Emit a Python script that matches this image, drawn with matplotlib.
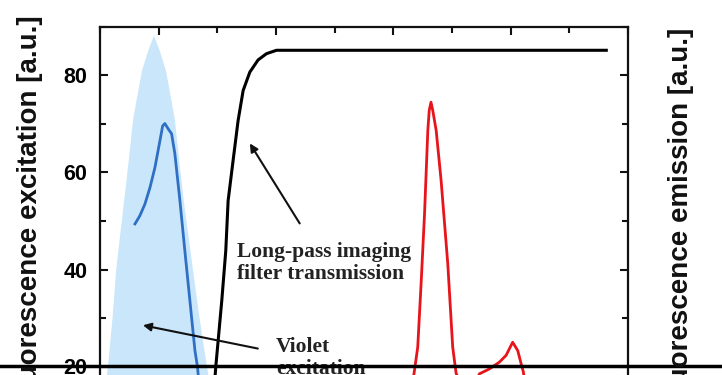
import matplotlib.pyplot as plt
from matplotlib.lines import Line2D
from matplotlib.ticker import MultipleLocator

# ---- data (wavelength in nm, intensity in a.u.) ----
# violet LED excitation band (light blue fill)
led_wl = [350, 356.8, 360.7, 363.8, 370.5, 374.3, 378.1, 382.0, 385.8, 390.9,
          396.0, 401.1, 406.2, 410.0, 413.9, 417.7, 421.5, 429.2, 434.8,
          441.1, 450, 460]
led_val = [8, 20, 30, 40, 54, 62, 70.7, 76, 81, 85,
           88.2, 85, 81, 76, 70.7, 62, 54, 40, 30,
           20, 8, 2]

# excitation spectrum (blue line)
exc_wl = [379.8, 384.0, 388.3, 392.6, 396.8, 400.5, 403.4, 405.3, 408.1,
          411.0, 413.8, 418.1, 422.3, 426.6, 430.9, 433.1, 436.0, 440.0]
exc_val = [49.4, 51.1, 53.5, 56.9, 61.0, 65.8, 69.6, 70.1, 69.0,
           68.0, 63.9, 54.2, 43.9, 33.6, 23.3, 19.9, 12.0, 6.0]

# long-pass filter transmission (black line)
filt_wl = [444.0, 448.7, 453.8, 457.2, 459.2, 463.4, 467.7, 472.0,
           477.7, 484.7, 491.9, 500.4, 600.0, 700.0, 781.5]
filt_val = [5.0, 20.0, 33.6, 43.9, 54.2, 62.4, 70.7, 76.9,
            80.7, 83.2, 84.5, 85.2, 85.2, 85.2, 85.2]

# emission spectrum (red line)
emi_wl = [605, 615, 620.8, 623.8, 626.6, 629.4, 630.6, 632.1, 633.6,
          636.5, 640.7, 646.4, 650.6, 653.5, 660, 668, 673.4, 681.9,
          690.4, 696.1, 701.7, 706.0, 708.9, 710.8, 715, 725]
emi_val = [12, 14, 24, 37.7, 51.5, 68.7, 72.8, 74.5, 72.8,
           68.7, 58.4, 41.2, 24, 18.6, 15, 15.5, 18.5, 19.5,
           20.9, 22.3, 25.0, 23.3, 20.6, 18.9, 12, 8]

SANS = "Liberation Sans"
SERIF = "Liberation Serif"

fig = plt.figure(figsize=(7.22, 3.75), dpi=100)
# axes runs off the bottom of the picture, like the cropped original
ax = fig.add_axes([0.1385, -0.236, 0.7313, 1.164])

ax.fill_between(led_wl, led_val, 0, color="#c9e6fa", lw=0)
ax.plot(exc_wl, exc_val, color="#2f6fc4", lw=2.0, solid_joinstyle="round")
ax.plot(filt_wl, filt_val, color="black", lw=2.2, solid_joinstyle="round")
ax.plot(emi_wl, emi_val, color="#e8141c", lw=2.0, solid_joinstyle="round")

ax.set_xlim(350, 800)
ax.set_ylim(0, 90)
ax.xaxis.set_major_locator(MultipleLocator(100))
ax.xaxis.set_minor_locator(MultipleLocator(50))
ax.yaxis.set_major_locator(MultipleLocator(20))
ax.yaxis.set_minor_locator(MultipleLocator(10))
ax.tick_params(which="both", direction="in", top=True, right=True,
               labelbottom=False, width=1.5, color="#111111")
ax.tick_params(which="major", length=6)
ax.tick_params(which="minor", length=4)
ax.tick_params(axis="y", labelsize=15.5, pad=9)
for lab in ax.get_yticklabels():
    lab.set_fontfamily(SANS)
    lab.set_fontweight("bold")
for sp in ax.spines.values():
    sp.set_linewidth(1.6)
    sp.set_color("#111111")

# annotations
txt_kw = dict(fontfamily=SERIF, fontweight="bold", fontsize=15.5,
              color="#222222", ha="left", va="center", linespacing=1.15)
ax.text(466.6, 41.3, "Long-pass imaging\nfilter transmission", **txt_kw)
ax.text(499.8, 21.8, "Violet\nexcitation", **txt_kw)
arrow = dict(arrowstyle="-|>", lw=1.5, color="#111111", mutation_scale=12,
             shrinkA=0, shrinkB=0)
ax.annotate("", xy=(477.7, 66.0), xytext=(520.2, 49.5), arrowprops=arrow)
ax.annotate("", xy=(386.6, 28.5), xytext=(484.5, 23.7), arrowprops=arrow)

# axis titles (cut off at the bottom edge in the original)
fig.text(30 / 722, 1 - 15 / 375, "Fluorescence excitation [a.u.]",
         rotation=90, ha="center", va="top", fontsize=20,
         fontfamily=SANS, fontweight="bold", color="#111111")
fig.text(681 / 722, 1 - 28 / 375, "Fluorescence emission [a.u.]",
         rotation=90, ha="center", va="top", fontsize=20,
         fontfamily=SANS, fontweight="bold", color="#111111")

# black border line along the bottom of the cropped picture
fig.add_artist(Line2D([0, 1], [1 - 366 / 375] * 2, transform=fig.transFigure,
                      color="black", lw=2.5))

fig.savefig("out.png", dpi=100)
